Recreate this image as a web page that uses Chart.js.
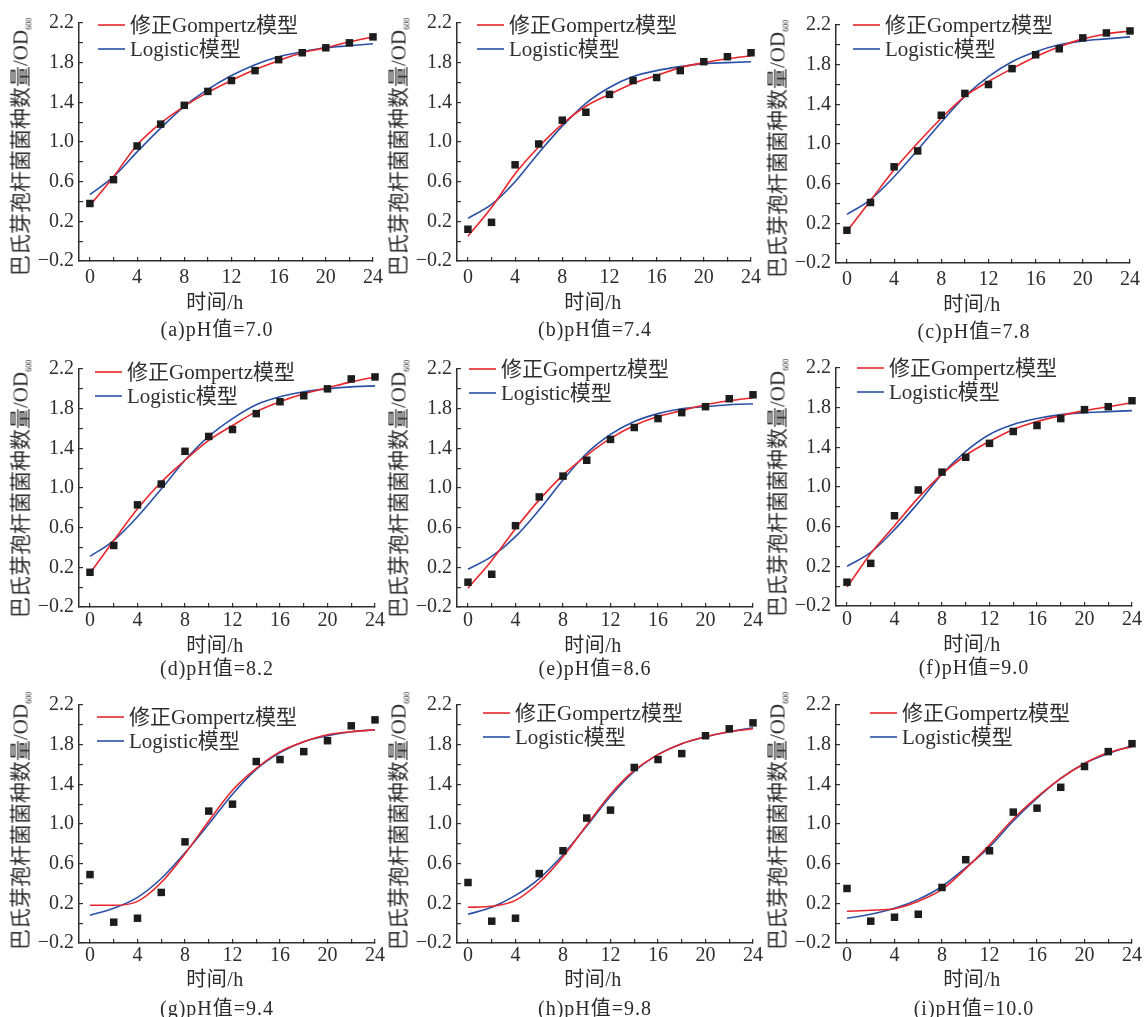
<!DOCTYPE html>
<html><head><meta charset="utf-8">
<script src="https://cdn.jsdelivr.net/npm/chart.js@4.4.1/dist/chart.umd.min.js"></script>
<style>
html,body{margin:0;padding:0;background:#fff;}
body{width:1144px;height:1017px;position:relative;overflow:hidden;font-family:"Liberation Serif","Noto Sans CJK SC",serif;color:#2b2b2b;}
canvas{position:absolute;}
.t{position:absolute;white-space:nowrap;transform:translate(-50%,-50%);line-height:1;}
.yt{transform:translate(-50%,-50%) rotate(-90deg);font-size:21px;}
.yt sub{font-size:8px;vertical-align:-4px;}
.xt{font-size:20px;letter-spacing:0.5px;}
.cap{font-size:20px;letter-spacing:1px;}
</style></head><body>
<script>
// ---------- data ----------
const timeH = [0, 2, 4, 6, 8, 10, 12, 14, 16, 18, 20, 22, 24];
const xTickValues = [0, 2, 4, 6, 8, 10, 12, 14, 16, 18, 20, 22, 24];
const yTickValues = [-0.2, 0, 0.2, 0.4, 0.6, 0.8, 1.0, 1.2, 1.4, 1.6, 1.8, 2.0, 2.2];
const panelLetters = ['a', 'b', 'c', 'd', 'e', 'f', 'g', 'h', 'i'];
const phValues = ['7.0', '7.4', '7.8', '8.2', '8.6', '9.0', '9.4', '9.8', '10.0'];

const obs_a = [0.38, 0.62, 0.96, 1.18, 1.37, 1.51, 1.62, 1.72, 1.83, 1.90, 1.95, 2.00, 2.06];
const gom_a = [0.36, 0.65, 0.97, 1.19, 1.36, 1.50, 1.62, 1.73, 1.82, 1.90, 1.95, 2.01, 2.06];
const log_a = [0.47, 0.65, 0.90, 1.14, 1.36, 1.53, 1.67, 1.78, 1.86, 1.91, 1.95, 1.97, 1.99];

const obs_b = [0.12, 0.19, 0.77, 0.98, 1.22, 1.30, 1.48, 1.62, 1.65, 1.72, 1.81, 1.86, 1.90];
const gom_b = [0.05, 0.34, 0.68, 0.95, 1.18, 1.36, 1.48, 1.59, 1.67, 1.75, 1.80, 1.84, 1.87];
const log_b = [0.23, 0.37, 0.60, 0.89, 1.16, 1.39, 1.55, 1.66, 1.72, 1.76, 1.79, 1.80, 1.81];

const obs_c = [0.13, 0.41, 0.77, 0.93, 1.29, 1.51, 1.60, 1.76, 1.90, 1.96, 2.07, 2.12, 2.14];
const gom_c = [0.12, 0.43, 0.74, 1.01, 1.26, 1.48, 1.63, 1.76, 1.88, 1.98, 2.06, 2.11, 2.14];
const log_c = [0.29, 0.44, 0.67, 0.94, 1.22, 1.48, 1.68, 1.83, 1.93, 2.00, 2.04, 2.06, 2.08];

const obs_d = [0.15, 0.42, 0.83, 1.04, 1.37, 1.52, 1.59, 1.75, 1.87, 1.93, 2.00, 2.10, 2.12];
const gom_d = [0.14, 0.47, 0.79, 1.06, 1.28, 1.48, 1.63, 1.77, 1.87, 1.95, 2.01, 2.07, 2.12];
const log_d = [0.31, 0.47, 0.71, 0.99, 1.28, 1.52, 1.70, 1.84, 1.92, 1.97, 2.00, 2.02, 2.03];

const obs_e = [0.05, 0.13, 0.62, 0.91, 1.12, 1.28, 1.49, 1.61, 1.70, 1.76, 1.82, 1.90, 1.94];
const gom_e = [-0.01, 0.27, 0.59, 0.88, 1.13, 1.33, 1.50, 1.63, 1.72, 1.78, 1.84, 1.88, 1.91];
const log_e = [0.18, 0.31, 0.51, 0.78, 1.08, 1.35, 1.54, 1.67, 1.75, 1.80, 1.82, 1.84, 1.85];

const obs_f = [0.04, 0.23, 0.71, 0.97, 1.15, 1.30, 1.44, 1.56, 1.62, 1.69, 1.78, 1.81, 1.87];
const gom_f = [-0.01, 0.33, 0.61, 0.89, 1.13, 1.32, 1.46, 1.58, 1.66, 1.72, 1.77, 1.81, 1.85];
const log_f = [0.20, 0.34, 0.57, 0.84, 1.13, 1.36, 1.53, 1.63, 1.69, 1.73, 1.75, 1.76, 1.77];

const obs_g = [0.49, 0.01, 0.05, 0.31, 0.82, 1.13, 1.20, 1.63, 1.65, 1.73, 1.84, 1.99, 2.05];
const gom_g = [0.18, 0.18, 0.22, 0.41, 0.70, 1.03, 1.34, 1.56, 1.73, 1.83, 1.90, 1.93, 1.95];
const log_g = [0.08, 0.15, 0.26, 0.45, 0.71, 1.00, 1.30, 1.55, 1.72, 1.83, 1.89, 1.93, 1.95];

const obs_h = [0.41, 0.02, 0.05, 0.50, 0.73, 1.06, 1.14, 1.57, 1.65, 1.71, 1.89, 1.96, 2.02];
const gom_h = [0.16, 0.17, 0.23, 0.41, 0.67, 0.99, 1.30, 1.54, 1.70, 1.81, 1.88, 1.93, 1.96];
const log_h = [0.09, 0.16, 0.28, 0.45, 0.69, 0.98, 1.28, 1.53, 1.70, 1.81, 1.88, 1.93, 1.97];

const obs_i = [0.35, 0.02, 0.06, 0.09, 0.36, 0.64, 0.73, 1.12, 1.16, 1.37, 1.58, 1.73, 1.81];
const gom_i = [0.12, 0.13, 0.145, 0.22, 0.34, 0.55, 0.79, 1.05, 1.27, 1.46, 1.61, 1.72, 1.78];
const log_i = [0.05, 0.09, 0.15, 0.24, 0.37, 0.56, 0.77, 1.03, 1.26, 1.46, 1.61, 1.71, 1.79];

const observed = [obs_a, obs_b, obs_c, obs_d, obs_e, obs_f, obs_g, obs_h, obs_i];
const gompertz = [gom_a, gom_b, gom_c, gom_d, gom_e, gom_f, gom_g, gom_h, gom_i];
const logistic = [log_a, log_b, log_c, log_d, log_e, log_f, log_g, log_h, log_i];

// ---------- layout (page pixels) ----------
const axisXs = [79, 457, 836];
const plotTops = [23, 23, 25, 369, 369, 368, 705, 705, 705];
const PLOT_H = 238;
const legendOffsets = [[19, 2], [20, 2], [17, 0], [16, 3], [12, 0], [21, 0], [18, 12], [26, 8], [34, 8]];
const rowTickPad = [9, 6, 5];
const rowXTitle = [41, 38, 36];
const rowCaption = [68, 61, 65];
const rowYTitle = [124, 120, 116];

const FONT = '"Liberation Serif", "Noto Sans CJK SC", serif';
const INK = '#2e2e2e';
const RED = '#e8262b';
const BLUE = '#2a50a6';

const cornerLegend = {
  id: 'cornerLegend',
  afterDatasetsDraw(chart, args, opts) {
    const {ctx, chartArea} = chart;
    ctx.save();
    ctx.font = '21px ' + FONT;
    ctx.textBaseline = 'middle';
    ctx.textAlign = 'left';
    ctx.fillStyle = INK;
    opts.items.forEach((idx, i) => {
      const ds = chart.data.datasets[idx];
      const x = chartArea.left + opts.dx;
      const y = chartArea.top + opts.dy + i * 24;
      ctx.strokeStyle = ds.borderColor;
      ctx.lineWidth = ds.borderWidth;
      ctx.beginPath(); ctx.moveTo(x, y); ctx.lineTo(x + 27, y); ctx.stroke();
      ctx.fillText(ds.label, x + 32, y + 1);
    });
    ctx.restore();
  }
};

function addText(cls, html, cx, cy) {
  const d = document.createElement('div');
  d.className = 't ' + cls;
  d.innerHTML = html;
  d.style.left = cx + 'px';
  d.style.top = cy + 'px';
  document.body.appendChild(d);
}

for (let p = 0; p < 9; p++) {
  const row = Math.floor(p / 3), col = p % 3;
  const axisX = axisXs[col], top = plotTops[p], bottom = top + PLOT_H;
  const cv = document.createElement('canvas');
  cv.width = 392; cv.height = 300;
  cv.style.left = (axisX - 79) + 'px';
  cv.style.top = (top - 23) + 'px';
  document.body.appendChild(cv);

  const pts = (arr) => timeH.map((t, i) => ({x: t, y: arr[i]}));

  new Chart(cv, {
    type: 'line',
    data: {
      datasets: [
        {label: '实测值', data: pts(observed[p]), showLine: false, pointStyle: 'rect', pointRadius: 5.3,
         pointBackgroundColor: '#1c1c1c', pointBorderWidth: 0, clip: false},
        {label: '修正Gompertz模型', data: pts(gompertz[p]), borderColor: RED, borderWidth: 1.6, pointRadius: 0,
         cubicInterpolationMode: 'monotone', fill: false, clip: false},
        {label: 'Logistic模型', data: pts(logistic[p]), borderColor: BLUE, borderWidth: 1.6, pointRadius: 0,
         cubicInterpolationMode: 'monotone', fill: false, clip: false}
      ]
    },
    options: {
      responsive: false, animation: false, events: [],
      layout: {padding: {left: 0, top: 23, right: 17, bottom: 0}},
      plugins: {legend: {display: false}, tooltip: {enabled: false},
        cornerLegend: {items: [1, 2], dx: legendOffsets[p][0], dy: legendOffsets[p][1]}},
      scales: {
        x: {
          type: 'linear', min: -0.926, max: 24,
          afterBuildTicks: s => { s.ticks = xTickValues.map(v => ({value: v})); },
          afterFit: s => { s.height = 39; },
          border: {display: true, color: INK, width: 1.5},
          grid: {drawOnChartArea: false, drawTicks: true, tickLength: -4, color: INK, lineWidth: 1.2},
          ticks: {autoSkip: false, maxRotation: 0, padding: rowTickPad[row], color: INK,
                  font: {family: FONT, size: 20},
                  callback: v => (v % 4 === 0 ? String(v) : '')}
        },
        y: {
          type: 'linear', min: -0.2, max: 2.2,
          afterBuildTicks: s => { s.ticks = yTickValues.map(v => ({value: v})); },
          afterFit: s => { s.width = 79; },
          border: {display: true, color: INK, width: 1.5},
          grid: {drawOnChartArea: false, drawTicks: true, tickLength: -4, color: INK, lineWidth: 1.2},
          ticks: {autoSkip: false, padding: 9, color: INK, font: {family: FONT, size: 20},
                  callback: (v, i) => (i % 2 === 0 ? v.toFixed(1).replace('-', '\u2212') : '')}
        }
      }
    },
    plugins: [cornerLegend]
  });

  addText('yt', '巴氏芽孢杆菌菌种数量/OD<sub>600</sub>', axisX - 57, top + rowYTitle[row]);
  addText('xt', '时间/h', axisX + 136, bottom + rowXTitle[row]);
  addText('cap', '(' + panelLetters[p] + ')pH值=' + phValues[p], axisX + 138, bottom + rowCaption[row]);
}
</script>
</body></html>
